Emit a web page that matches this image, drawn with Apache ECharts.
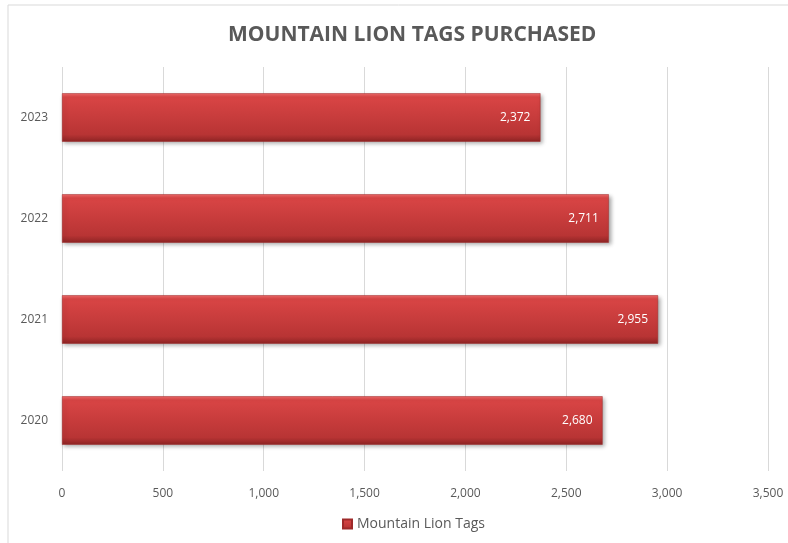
<!DOCTYPE html>
<html>
<head>
<meta charset="utf-8">
<script src="https://cdn.jsdelivr.net/npm/echarts@6/dist/echarts.min.js"></script>
<style>
  html, body { margin: 0; padding: 0; background: #fff; }
  #chart { width: 788px; height: 543px; }
</style>
</head>
<body>
<div id="chart"></div>
<script>
// data
var years = ['2020', '2021', '2022', '2023'];
var tags = [2680, 2955, 2711, 2372];
var xTicks = [0, 500, 1000, 1500, 2000, 2500, 3000, 3500];

var font = '"Open Sans", "Noto Sans", sans-serif';
var chart = echarts.init(document.getElementById('chart'));

chart.setOption({
    animation: false,
    backgroundColor: '#fff',
    graphic: [{
        type: 'rect',
        shape: { x: 8, y: 5, width: 800, height: 560 },
        style: { fill: 'none', stroke: '#d9d9d9', lineWidth: 1 },
        silent: true
    }],
    title: {
        text: 'MOUNTAIN LION TAGS PURCHASED',
        left: 223,
        top: 20,
        textStyle: { fontFamily: font, fontSize: 21, fontWeight: 'bold', color: '#595959' }
    },
    legend: {
        bottom: 7,
        left: 337,
        itemWidth: 9,
        itemHeight: 9,
        itemGap: 4,
        icon: 'rect',
        textStyle: { fontFamily: font, fontSize: 14, color: '#595959' },
        data: ['Mountain Lion Tags']
    },
    grid: { left: 62, right: 20, top: 67, bottom: 72, containLabel: false },
    xAxis: {
        type: 'value',
        min: 0,
        max: 3500,
        interval: 500,
        axisLine: { show: false },
        axisTick: { show: false },
        splitLine: { lineStyle: { color: '#d9d9d9' } },
        axisLabel: {
            fontFamily: font, fontSize: 12, color: '#595959', margin: 17,
            formatter: function (v) { return xTicks.indexOf(v) >= 0 ? v.toLocaleString('en-US') : ''; }
        }
    },
    yAxis: {
        type: 'category',
        data: years,
        axisLine: { show: false },
        axisTick: { show: false },
        axisLabel: { fontFamily: font, fontSize: 12, color: '#595959', margin: 14 }
    },
    series: [{
        name: 'Mountain Lion Tags',
        type: 'bar',
        data: tags,
        barCategoryGap: '52%',
        itemStyle: {
            color: new echarts.graphic.LinearGradient(0, 0, 0, 1, [
                { offset: 0, color: '#f06a6a' },
                { offset: 0.08, color: '#d94545' },
                { offset: 0.85, color: '#b83434' },
                { offset: 1, color: '#8e2424' }
            ]),
            borderColor: '#9e2a2a',
            borderWidth: 0.5,
            shadowColor: 'rgba(0,0,0,0.35)',
            shadowBlur: 4,
            shadowOffsetX: 2,
            shadowOffsetY: 2
        },
        label: {
            show: true,
            position: 'insideRight',
            distance: 10,
            color: '#fff',
            fontFamily: font,
            fontSize: 12,
            formatter: function (p) { return p.value.toLocaleString('en-US'); }
        }
    }]
});
</script>
</body>
</html>
